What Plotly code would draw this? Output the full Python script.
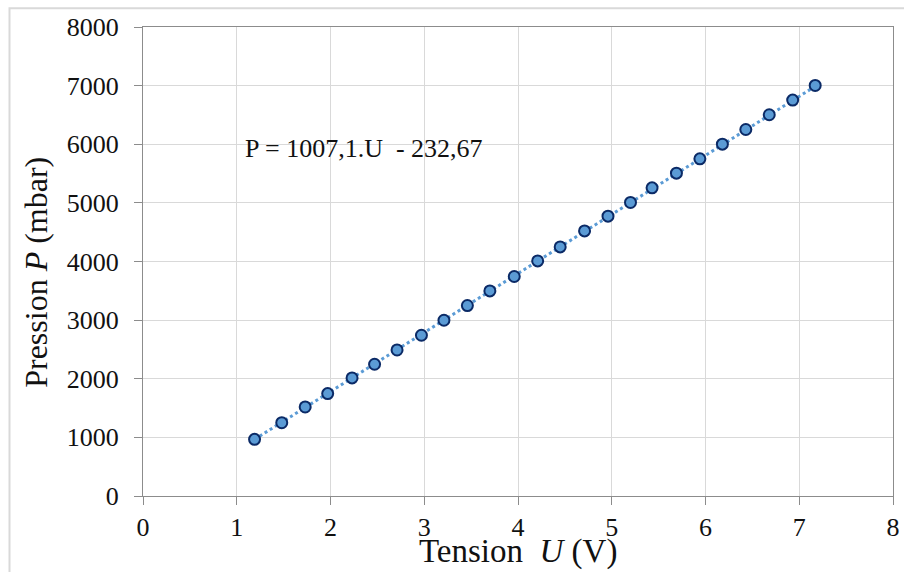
import plotly.graph_objects as go

# Data
tension_u = [1.19, 1.48, 1.73, 1.97, 2.23, 2.47, 2.71, 2.97, 3.21, 3.46, 3.70, 3.96,
             4.21, 4.45, 4.71, 4.96, 5.20, 5.43, 5.69, 5.94, 6.18, 6.43, 6.68, 6.93, 7.17]
pression_p = [967, 1250, 1519, 1747, 2014, 2247, 2491, 2742, 2998, 3249, 3498, 3744,
              4010, 4249, 4522, 4773, 5007, 5256, 5507, 5751, 6002, 6252, 6503, 6753, 7003]
fit_slope = 1007.1
fit_intercept = -232.67
equation_text = "P = 1007,1.U  - 232,67"

x_ticks = [0, 1, 2, 3, 4, 5, 6, 7, 8]
y_ticks = [0, 1000, 2000, 3000, 4000, 5000, 6000, 7000, 8000]

FONT = "Liberation Serif, Times New Roman, serif"
BLUE = "#5b9bd5"
NAVY = "#0b2a66"

fit_x = [min(tension_u), max(tension_u)]
fit_y = [fit_slope * u + fit_intercept for u in fit_x]

fig = go.Figure()
fig.add_trace(go.Scatter(
    x=fit_x, y=fit_y, mode="lines",
    line=dict(color=BLUE, width=3, dash="dot"),
    hoverinfo="skip", showlegend=False,
))
fig.add_trace(go.Scatter(
    x=tension_u, y=pression_p, mode="markers",
    marker=dict(size=11, color=BLUE, line=dict(color=NAVY, width=2)),
    showlegend=False,
))

axis_common = dict(
    showgrid=True, gridcolor="#d9d9d9", gridwidth=1,
    showline=True, linecolor="#8c8c8c", linewidth=1, mirror=True,
    ticks="outside", ticklen=8, tickwidth=1, tickcolor="#8c8c8c",
    zeroline=False, automargin=False,
    tickfont=dict(family=FONT, size=26, color="#111111"),
)

fig.update_layout(
    width=904, height=572,
    margin=dict(l=143, r=11, t=27, b=76),
    paper_bgcolor="white", plot_bgcolor="white",
    xaxis=dict(range=[0, 8], tickvals=x_ticks, **axis_common),
    yaxis=dict(range=[0, 8000], tickvals=y_ticks, ticklabelstandoff=10, **axis_common),
    font=dict(family=FONT),
    annotations=[
        dict(text=equation_text, x=1.07, y=5920, xref="x", yref="y",
             xanchor="left", yanchor="middle", showarrow=False,
             font=dict(family=FONT, size=26, color="#111111")),
        dict(text="Tension  <i>U</i> (V)", x=0.5, y=-0.118, xref="paper", yref="paper",
             xanchor="center", yanchor="middle", showarrow=False,
             font=dict(family=FONT, size=33, color="#111111")),
        dict(text="Pression <i>P</i> (mbar)", x=-0.142, y=0.477, xref="paper", yref="paper",
             xanchor="center", yanchor="middle", showarrow=False, textangle=-90,
             font=dict(family=FONT, size=32, color="#111111")),
    ],
    shapes=[
        dict(type="rect", xref="paper", yref="paper",
             x0=-0.178, x1=1.2, y0=-0.4, y1=1.04,
             line=dict(color="#d9d9d9", width=2), fillcolor="rgba(0,0,0,0)", layer="below"),
    ],
)

fig.write_html(
    "out.html",
    config={"displayModeBar": False},
    post_script="document.body.style.margin='0';document.body.style.overflow='hidden';"
                "document.documentElement.style.overflow='hidden';",
)
